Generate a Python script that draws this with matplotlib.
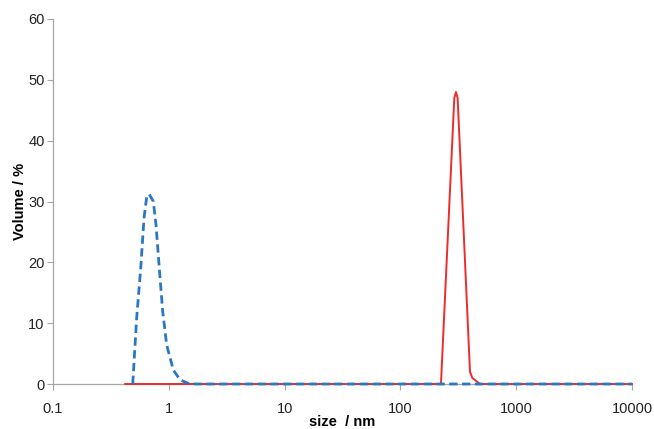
import numpy as np
import matplotlib
matplotlib.use('Agg')
from matplotlib import pyplot as plt

# size distribution (size in nm, volume in %)
blue_size = [0.488, 0.528, 0.572, 0.611, 0.645, 0.678, 0.735, 0.775, 0.828, 0.886,
             0.959, 1.094, 1.249, 1.472, 1.7, 10000]
blue_vol = [0, 10.9, 19, 27.3, 30.8, 31.2, 30, 26.2, 19, 11.9,
            6.4, 2.3, 0.7, 0.1, 0, 0]

red_size = [0.42, 224, 292, 302, 312, 399, 418, 487, 10000]
red_vol = [0, 0, 47, 48, 47, 2, 1, 0, 0]

y_ticks = [0, 10, 20, 30, 40, 50, 60]
x_ticks = [0.1, 1, 10, 100, 1000, 10000]
x_labels = ['0.1', '1', '10', '100', '1000', '10000']

plt.rcParams['font.family'] = ['Liberation Sans', 'DejaVu Sans']

fig = plt.figure(figsize=(6.54, 4.29), dpi=100)
ax = fig.add_axes([53/654, 1 - 384/429, (632 - 53)/654, (384 - 19)/429])

# clip_on off so the zero baseline isn't cut in half by the axes edge
ax.plot(red_size, red_vol, color='#ee2a2a', linewidth=1.4, zorder=3, clip_on=False)
ax.plot(blue_size, blue_vol, color='#2a78c4', linewidth=2.0, dashes=(3, 1.6),
        zorder=4, clip_on=False)

ax.set_xscale('log')
ax.set_xlim(0.1, 10000)
ax.set_ylim(0, 60)
ax.set_xticks(x_ticks)
ax.set_xticklabels(x_labels)
ax.minorticks_off()
ax.set_yticks(y_ticks)

for s in ['top', 'right']:
    ax.spines[s].set_visible(False)
for s in ['left', 'bottom']:
    ax.spines[s].set_color('#a6a6a6')
    ax.spines[s].set_linewidth(0.9)
ax.tick_params(axis='both', direction='out', length=4, width=0.8, color='#a6a6a6',
               labelsize=10.5, labelcolor='#222222')
ax.tick_params(axis='x', pad=9)
ax.tick_params(axis='y', pad=2)

ax.set_xlabel('size  / nm', fontsize=10.5, fontweight='bold', labelpad=-1)
ax.set_ylabel('Volume / %', fontsize=10.5, fontweight='bold', labelpad=1)

fig.savefig('out.png', dpi=100)
